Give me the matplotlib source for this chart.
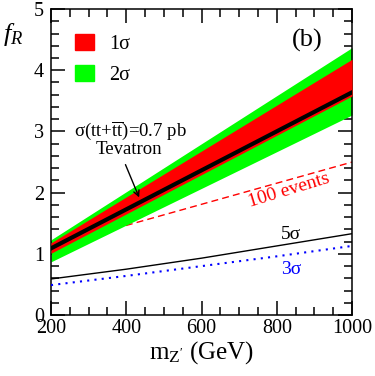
import matplotlib
matplotlib.use("Agg")
import matplotlib.pyplot as plt
from matplotlib.patches import Patch
from matplotlib.ticker import MultipleLocator

plt.rcParams['font.family'] = ['Liberation Serif', 'DejaVu Serif']
plt.rcParams['mathtext.fontset'] = 'custom'
plt.rcParams['mathtext.rm'] = 'Liberation Serif'
plt.rcParams['mathtext.it'] = 'Liberation Serif:italic'

# band edges at the two end masses
mass = [200, 1000]
central = [1.09, 3.64]
red_lo = [1.01, 3.58]
red_hi = [1.18, 4.18]
green_lo = [0.87, 3.27]
green_hi = [1.23, 4.37]
events100 = [1.12, 2.50]

# discovery curves
mass_sig = [200, 400, 600, 800, 1000]
sig5 = [0.59, 0.75, 0.93, 1.13, 1.33]
sig3 = [0.49, 0.64, 0.80, 0.96, 1.13]

fig = plt.figure(figsize=(3.75, 3.76), dpi=100)
ax = fig.add_axes([0.136, 0.162, 0.803, 0.814])

ax.plot(mass, events100, color='red', ls=(0, (5, 3)), lw=1.0, zorder=1)
ax.fill_between(mass, green_lo, green_hi, color='#00ff00', lw=0, zorder=2)
ax.fill_between(mass, red_lo, red_hi, color='#ff0000', lw=0, zorder=3)
ax.plot(mass, central, color='black', lw=3.0, zorder=4)
ax.plot(mass_sig, sig5, color='black', lw=1.0, zorder=4)
ax.plot(mass_sig, sig3, color='blue', lw=1.5, ls=(0, (1, 2.5)), zorder=4)

ax.set_xlim(200, 1000)
ax.set_ylim(0, 5)
ax.xaxis.set_major_locator(MultipleLocator(200))
ax.xaxis.set_minor_locator(MultipleLocator(50))
ax.yaxis.set_major_locator(MultipleLocator(1))
ax.yaxis.set_minor_locator(MultipleLocator(0.2))
ax.tick_params(which='both', direction='in', top=True, right=True,
               labelsize=14.5, width=1.1)
ax.tick_params(axis='x', pad=3)
ax.tick_params(axis='y', pad=5)
ax.tick_params(which='major', length=10)
ax.tick_params(which='minor', length=5.5)
for s in ax.spines.values():
    s.set_linewidth(1.1)

ax.set_xlabel(r'm$_{\mathrm{Z}^{\prime}}$ (GeV)', fontsize=18, labelpad=1)
ax.text(-0.125, 0.918, r'$f_R$', transform=ax.transAxes, fontsize=19,
        ha='center', va='center')

handles = [Patch(color='#ff0000', label='1σ'), Patch(color='#00ff00', label='2σ')]
ax.legend(handles=handles, loc='upper left', bbox_to_anchor=(0.08, 0.92),
          frameon=False, fontsize=14.5, borderpad=0, borderaxespad=0,
          handlelength=0.95, handleheight=0.85, handletextpad=0.75,
          labelspacing=0.55)

ax.text(880, 4.49, '(b)', fontsize=19, ha='center', va='center')
ax.text(410, 3.02, r'σ(tt+$\overline{\mathrm{tt}}$)=0.7 pb', fontsize=13.5,
        ha='center', va='center')
ax.text(407, 2.71, 'Tevatron', fontsize=13.5, ha='center', va='center')
ax.annotate('', xy=(437, 1.88), xytext=(395, 2.50),
            arrowprops=dict(arrowstyle='->', color='black', lw=1.0), zorder=5)
ax.text(833, 2.03, '100 events', fontsize=14, color='red', rotation=17,
        ha='center', va='center')
ax.text(838, 1.32, '5σ', fontsize=14, ha='center', va='center')
ax.text(838, 0.75, '3σ', fontsize=14, color='blue', ha='center', va='center')

fig.savefig('out.png', dpi=100)
